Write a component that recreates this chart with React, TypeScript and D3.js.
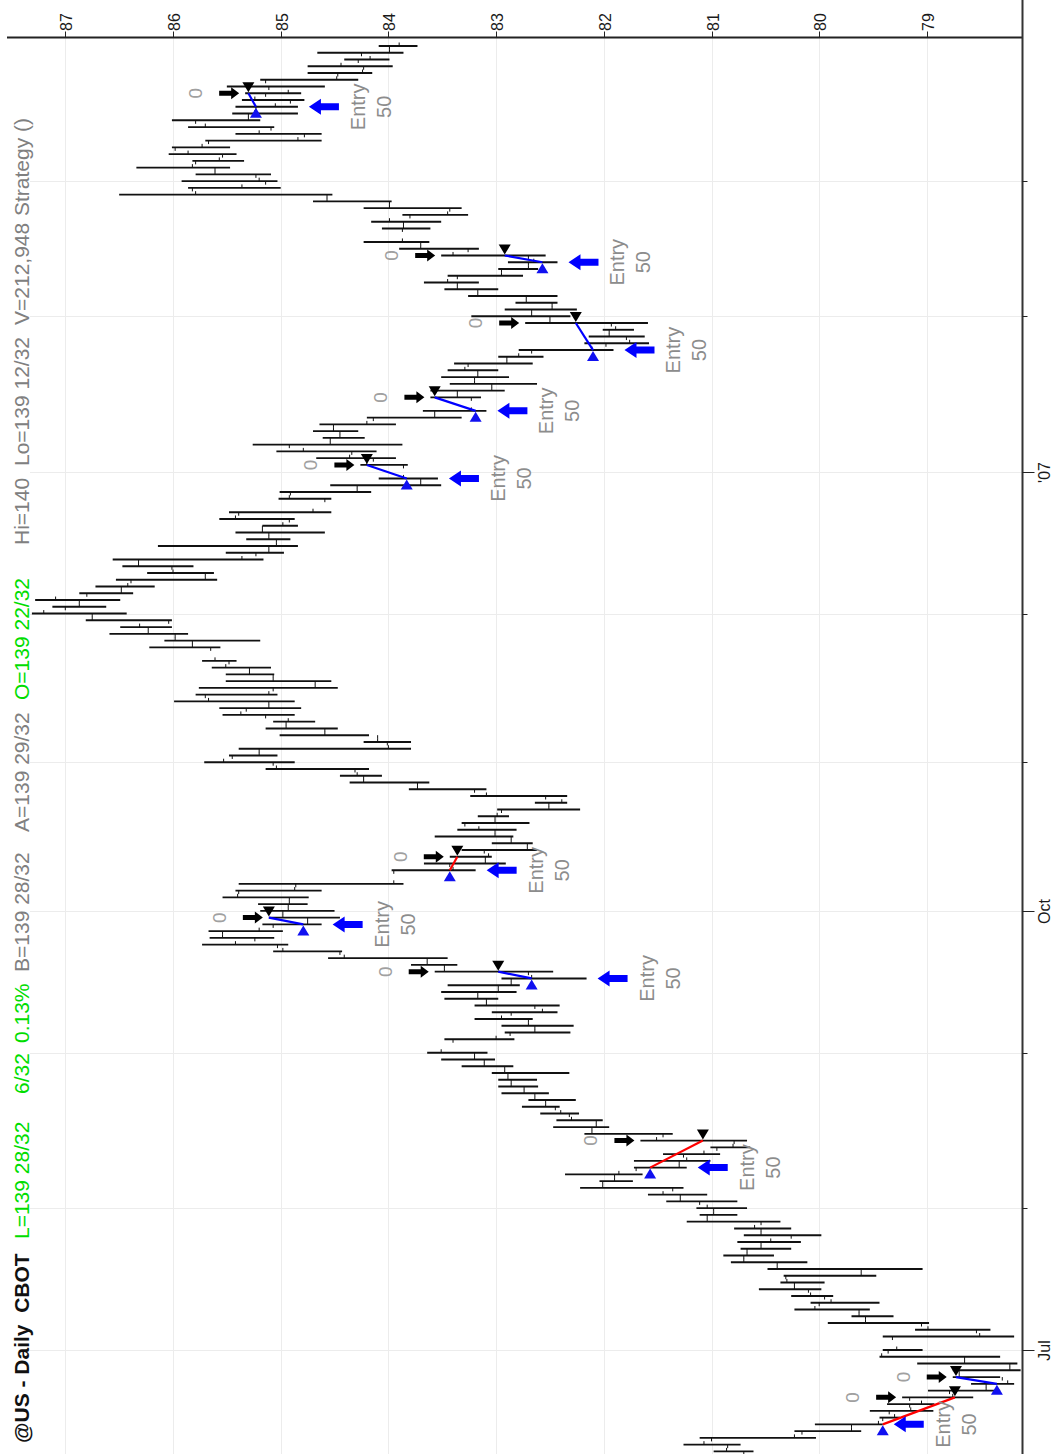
import React, { useRef, useEffect } from "react";
import * as d3 from "d3";

const W = 1056;
const H = 1454;

// trading calendar: weekdays from the first to the last bar, minus exchange holidays
const firstDay = "2006-06-12";
const lastDay = "2007-03-29";
const holidays = [
  "2006-07-04", "2006-09-04", "2006-10-09", "2006-11-23",
  "2006-12-25", "2007-01-01", "2007-01-15", "2007-02-19",
];

// daily OHLC, oldest first (one value per trading day)
const highs = [
  80.98, 81.26, 81.11, 80.23, 80.04, 79.44, 79.53, 79.37, 79.23, 78.99,
  78.59, 78.76, 78.76, 79.09, 79.44, 79.41, 79.41, 79.11, 79.92, 79.7,
  80.23, 80.08, 80.26, 80.56, 80.36, 80.33, 80.48, 80.82, 80.89, 80.73,
  80.76, 80.7, 80.79, 81.23, 81.11, 81.14, 81.42, 81.59, 82.22, 82.04,
  82.36, 81.72, 81.72, 81.45, 81.01, 81.66, 82.18, 82.47, 82.44, 82.59,
  82.76, 82.7, 82.95, 82.98, 82.98, 83.04, 83.32, 83.51, 83.64, 83.48,
  82.92, 82.95, 83.2, 83.04, 83.2, 83.48, 83.51, 83.45, 82.95, 83.57,
  83.79, 84.56, 85.07, 85.73, 85.66, 85.67, 85.17, 85.11, 85.19, 85.21,
  85.54, 85.42, 85.39, 83.97, 83.67, 83.43, 83.32, 83.04, 83.57, 83.36,
  83.32, 83.17, 82.99, 82.64, 83.24, 83.81, 84.36, 84.45, 85.14, 85.71,
  85.48, 85.39, 84.23, 85.01, 85.14, 85.07, 85.54, 85.57, 85.99, 85.79,
  85.76, 85.51, 85.51, 85.64, 85.73, 86.22, 86.08, 86.59, 86.49, 86.81,
  87.31, 87.12, 87.28, 86.87, 86.72, 86.53, 86.24, 86.47, 86.56, 85.51,
  86.14, 85.32, 85.42, 85.17, 85.57, 85.48, 85.02, 85.01, 84.54, 84.09,
  84.26, 84.67, 85.04, 85.26, 84.61, 84.7, 84.64, 84.2, 83.68, 83.61,
  83.61, 83.43, 83.51, 83.45, 83.39, 82.98, 82.79, 82.18, 82.14, 82.01,
  82.73, 83.23, 82.92, 82.82, 83.26, 83.48, 83.67, 83.45, 82.98, 82.89,
  83.51, 83.9, 84.23, 84.06, 84.16, 83.87, 84.23, 84.7, 86.5, 85.86,
  85.92, 85.79, 86.34, 85.82, 86.04, 86.01, 85.7, 85.42, 85.86, 86.01,
  85.45, 85.42, 85.36, 85.33, 85.5, 85.19, 84.75, 84.75, 84.41, 84.66,
  84.09,
];
const lows = [
  80.61, 80.73, 80.03, 79.61, 79.41, 79.25, 78.94, 78.93, 78.57, 78.32,
  78.19, 78.32, 78.13, 78.16, 78.32, 79.04, 78.19, 78.41, 78.98, 79.31,
  79.53, 79.44, 79.87, 79.98, 79.95, 79.47, 79.04, 80.11, 80.42, 80.26,
  80.17, 79.98, 80.26, 80.36, 80.76, 80.67, 80.76, 81.04, 81.26, 81.73,
  81.64, 81.23, 81.01, 80.92, 80.64, 80.67, 81.36, 81.95, 82.01, 82.23,
  82.41, 82.26, 82.51, 82.61, 82.62, 82.32, 82.84, 83.01, 83.08, 82.83,
  82.31, 82.28, 82.66, 82.43, 82.41, 82.98, 82.81, 82.78, 82.16, 82.47,
  83.36, 83.45, 84.43, 84.93, 85.06, 84.98, 84.62, 84.45, 84.5, 84.75,
  84.74, 84.62, 83.86, 83.19, 82.91, 83.04, 82.62, 82.66, 82.84, 82.81,
  82.69, 82.88, 82.22, 82.34, 82.34, 83.09, 83.62, 84.06, 84.18, 84.87,
  85.03, 83.79, 83.79, 84.18, 84.47, 84.68, 84.87, 84.81, 84.87, 85.03,
  84.47, 84.53, 85.06, 85.09, 85.41, 85.56, 85.19, 85.86, 86.01, 86.01,
  86.43, 86.62, 86.49, 86.37, 86.17, 85.59, 85.62, 85.81, 85.16, 84.97,
  84.84, 84.91, 84.59, 84.84, 84.87, 84.53, 84.53, 84.16, 83.51, 83.54,
  83.82, 83.93, 84.11, 83.87, 84.22, 84.28, 83.93, 83.32, 83.09, 83.14,
  82.92, 82.62, 82.88, 82.98, 82.66, 82.56, 81.91, 81.58, 81.62, 81.72,
  81.59, 82.31, 82.25, 82.43, 82.43, 82.98, 83.16, 82.75, 82.61, 82.43,
  82.54, 83.16, 83.62, 83.61, 83.51, 83.26, 83.32, 83.97, 84.52, 85.0,
  85.03, 85.09, 85.47, 85.34, 85.41, 85.47, 84.62, 84.62, 85.06, 85.19,
  84.84, 84.84, 84.78, 84.81, 84.59, 84.28, 84.15, 83.96, 83.99, 83.86,
  83.73,
];
const opens = [
  80.7, 80.85, 81.0, 80.16, 79.7, 79.41, 79.35, 79.16, 79.16, 78.79,
  78.45, 78.3, 78.7, 78.23, 78.65, 79.36, 79.32, 78.54, 79.05, 79.57,
  79.63, 80.0, 79.95, 80.1, 80.23, 80.31, 79.61, 80.39, 80.7, 80.67,
  80.54, 80.26, 80.54, 80.54, 81.04, 80.98, 81.11, 81.29, 81.36, 82.01,
  81.9, 81.7, 81.3, 81.26, 80.95, 80.79, 81.45, 82.11, 82.07, 82.32,
  82.45, 82.54, 82.64, 82.74, 82.86, 82.89, 82.92, 83.11, 83.2, 83.4,
  82.87, 82.64, 82.7, 82.86, 82.64, 83.09, 83.17, 82.98, 82.86, 82.7,
  83.48, 83.64, 84.45, 85.03, 85.24, 85.54, 85.07, 84.75, 84.98, 84.93,
  84.92, 85.39, 84.86, 83.95, 83.43, 83.1, 83.11, 82.71, 82.86, 83.01,
  83.29, 83.01, 82.95, 82.51, 82.54, 83.2, 83.73, 84.23, 84.31, 85.07,
  85.45, 85.2, 84.01, 84.1, 84.59, 84.95, 85.14, 85.32, 85.11, 85.7,
  85.07, 84.68, 85.07, 85.29, 85.48, 85.65, 85.82, 85.98, 86.23, 86.04,
  86.75, 87.0, 86.87, 86.8, 86.48, 86.39, 85.7, 86.01, 86.32, 85.23,
  85.11, 85.04, 85.11, 85.17, 84.92, 85.39, 84.59, 84.91, 84.29, 83.7,
  83.86, 84.14, 84.34, 84.92, 84.54, 84.45, 84.51, 84.14, 83.57, 83.23,
  83.36, 83.04, 83.2, 83.17, 83.26, 82.9, 82.67, 81.98, 81.79, 81.95,
  81.93, 82.5, 82.67, 82.48, 82.72, 83.17, 83.36, 83.36, 82.95, 82.7,
  82.7, 83.26, 83.7, 83.87, 83.86, 83.8, 83.43, 83.99, 84.57, 85.82,
  85.14, 85.23, 85.61, 85.79, 85.54, 85.98, 85.67, 84.78, 85.09, 85.79,
  85.3, 85.23, 84.91, 85.14, 85.11, 85.14, 84.47, 84.23, 84.28, 84.25,
  83.99,
];
const closes = [
  80.86, 81.07, 80.23, 79.7, 79.45, 79.3, 79.15, 79.05, 78.76, 78.45,
  78.25, 78.7, 78.23, 78.65, 79.42, 79.28, 78.51, 78.99, 79.57, 79.63,
  80.04, 79.89, 80.08, 80.23, 80.3, 79.61, 80.39, 80.7, 80.67, 80.54,
  80.45, 80.54, 80.6, 81.04, 80.98, 81.04, 81.29, 81.45, 82.01, 81.9,
  81.86, 81.3, 81.23, 81.07, 80.8, 81.51, 82.11, 82.07, 82.3, 82.4,
  82.54, 82.64, 82.74, 82.86, 82.89, 82.92, 83.11, 83.2, 83.51, 83.0,
  82.64, 82.7, 82.95, 82.57, 83.09, 83.17, 82.98, 82.86, 82.67, 83.48,
  83.64, 84.41, 84.98, 85.42, 85.54, 85.2, 84.75, 84.98, 84.93, 84.92,
  85.4, 84.87, 83.95, 83.4, 83.1, 83.07, 82.71, 82.86, 83.01, 83.16,
  83.01, 82.99, 82.51, 82.39, 83.09, 83.73, 84.23, 84.29, 85.04, 85.53,
  85.2, 84.0, 84.1, 84.59, 84.95, 84.93, 85.37, 85.11, 85.67, 85.11,
  84.68, 85.07, 85.29, 85.51, 85.61, 85.82, 85.98, 86.23, 86.31, 86.75,
  87.2, 86.87, 87.09, 86.48, 86.42, 85.7, 86.0, 86.32, 85.36, 85.11,
  85.04, 85.11, 85.17, 84.98, 85.42, 84.7, 84.92, 84.29, 83.7, 83.86,
  84.2, 84.36, 84.79, 84.54, 84.45, 84.51, 84.2, 83.57, 83.23, 83.36,
  83.04, 83.2, 83.17, 83.29, 82.9, 82.79, 82.11, 81.76, 81.95, 81.89,
  82.5, 82.67, 82.48, 82.72, 83.17, 83.36, 83.45, 82.95, 82.7, 82.65,
  83.4, 83.7, 83.87, 83.86, 83.99, 83.45, 83.99, 84.57, 85.79, 85.36,
  85.2, 85.61, 85.82, 85.57, 85.86, 85.73, 84.84, 85.2, 85.7, 85.3,
  85.24, 85.05, 85.24, 84.93, 85.28, 84.48, 84.24, 84.44, 84.17, 83.99,
  83.9,
];

// strategy trades: long entry (50) and exit (0)
const trades = [
  { entry: "2006-06-16", entryPrice: 79.41, exit: "2006-06-22", exitPrice: 78.74 },
  { entry: "2006-06-26", entryPrice: 78.35, exit: "2006-06-27", exitPrice: 78.73 },
  { entry: "2006-08-09", entryPrice: 81.57, exit: "2006-08-15", exitPrice: 81.08 },
  { entry: "2006-09-18", entryPrice: 82.67, exit: "2006-09-19", exitPrice: 82.98 },
  { entry: "2006-09-28", entryPrice: 84.79, exit: "2006-09-29", exitPrice: 85.11 },
  { entry: "2006-10-10", entryPrice: 83.43, exit: "2006-10-12", exitPrice: 83.36 },
  { entry: "2006-12-29", entryPrice: 83.83, exit: "2007-01-02", exitPrice: 84.2 },
  { entry: "2007-01-12", entryPrice: 83.19, exit: "2007-01-16", exitPrice: 83.57 },
  { entry: "2007-01-25", entryPrice: 82.1, exit: "2007-01-31", exitPrice: 82.26 },
  { entry: "2007-02-13", entryPrice: 82.57, exit: "2007-02-14", exitPrice: 82.92 },
  { entry: "2007-03-16", entryPrice: 85.23, exit: "2007-03-20", exitPrice: 85.3 },
];

const priceTicks = [87, 86, 85, 84, 83, 82, 81, 80, 79];
const monthLabels = { "2006-07": "Jul", "2006-10": "Oct", "2007-01": "'07" };

// header line, pieces and colours
const header = [
  { text: "@US - Daily  CBOT", color: "#111", start: 1443, bold: true },
  { text: "L=139 28/32", color: "#00dd00", start: 1239 },
  { text: "6/32", color: "#00dd00", start: 1094 },
  { text: "0.13%", color: "#00dd00", start: 1043 },
  { text: "B=139 28/32", color: "#808080", start: 972 },
  { text: "A=139 29/32", color: "#808080", start: 832 },
  { text: "O=139 22/32", color: "#00dd00", start: 700 },
  { text: "Hi=140", color: "#808080", start: 545 },
  { text: "Lo=139 12/32", color: "#808080", start: 466 },
  { text: "V=212,948", color: "#808080", start: 325 },
  { text: "Strategy ()", color: "#808080", start: 216 },
];

const FONT = "'Liberation Sans', Arial, sans-serif";

function App() {
  const svgRef = useRef(null);

  useEffect(() => {
    const svg = d3.select(svgRef.current);
    svg.selectAll("*").remove();

    const parse = d3.timeParse("%Y-%m-%d");
    const fmt = d3.timeFormat("%Y-%m-%d");
    const fmtMonth = d3.timeFormat("%Y-%m");
    const holidaySet = new Set(holidays);

    // walk the weekdays, every weekday takes a slot, holidays leave a gap
    const slotOf = {};
    const monthStarts = [];
    let slot = 0;
    let prevMonth = null;
    d3.timeDay
      .range(parse(firstDay), d3.timeDay.offset(parse(lastDay), 1))
      .forEach((d) => {
        const wd = d.getDay();
        if (wd === 0 || wd === 6) return;
        const m = fmtMonth(d);
        if (prevMonth !== null && m !== prevMonth) {
          monthStarts.push({ slot, key: m });
        }
        prevMonth = m;
        if (!holidaySet.has(fmt(d))) slotOf[fmt(d)] = slot;
        slot++;
      });
    const days = Object.keys(slotOf);
    const bars = days.map((day, i) => ({
      day,
      slot: slotOf[day],
      h: highs[i],
      l: lows[i],
      o: opens[i],
      c: closes[i],
    }));
    const byDay = {};
    bars.forEach((b) => (byDay[b.day] = b));

    // chart is drawn turned: price runs left→right (high→low), time runs bottom→top
    const x = d3.scaleLinear().domain([87, 79]).range([65.3, 926.9]);
    const y = d3.scaleLinear().domain([0, slot - 1]).range([1451.4, 46]);

    const axisY = 37.5;
    const axisX = 1022.5;
    const plotLeft = 30;

    svg.append("rect").attr("width", W).attr("height", H).attr("fill", "#fff");

    svg
      .append("defs")
      .append("clipPath")
      .attr("id", "plot")
      .append("rect")
      .attr("x", 0)
      .attr("y", axisY)
      .attr("width", axisX)
      .attr("height", H - axisY);

    // grid
    const grid = svg.append("g").attr("stroke", "#ececec").attr("stroke-width", 1);
    priceTicks.forEach((p) => {
      grid
        .append("line")
        .attr("x1", Math.round(x(p)) + 0.5)
        .attr("x2", Math.round(x(p)) + 0.5)
        .attr("y1", axisY)
        .attr("y2", H);
    });
    monthStarts.forEach((m) => {
      grid
        .append("line")
        .attr("x1", plotLeft)
        .attr("x2", axisX)
        .attr("y1", Math.round(y(m.slot)) + 0.5)
        .attr("y2", Math.round(y(m.slot)) + 0.5);
    });

    // price axis along the top
    svg
      .append("line")
      .attr("x1", 7)
      .attr("x2", axisX)
      .attr("y1", axisY)
      .attr("y2", axisY)
      .attr("stroke", "#222")
      .attr("stroke-width", 2);
    priceTicks.forEach((p) => {
      const px = Math.round(x(p)) + 0.5;
      svg
        .append("line")
        .attr("x1", px)
        .attr("x2", px)
        .attr("y1", axisY - 6)
        .attr("y2", axisY)
        .attr("stroke", "#222");
      svg
        .append("text")
        .attr("transform", `translate(${px + 6},31) rotate(-90)`)
        .attr("font-family", FONT)
        .attr("font-size", 16)
        .attr("fill", "#1a1a1a")
        .text(p);
    });

    // time axis on the right
    svg
      .append("line")
      .attr("x1", axisX)
      .attr("x2", axisX)
      .attr("y1", 0)
      .attr("y2", H)
      .attr("stroke", "#333")
      .attr("stroke-width", 2);
    monthStarts.forEach((m) => {
      const my = Math.round(y(m.slot)) + 0.5;
      const label = monthLabels[m.key];
      svg
        .append("line")
        .attr("x1", axisX)
        .attr("x2", axisX + (label ? 12 : 5))
        .attr("y1", my)
        .attr("y2", my)
        .attr("stroke", "#222");
      if (label) {
        svg
          .append("text")
          .attr("transform", `translate(1050,${my}) rotate(-90)`)
          .attr("text-anchor", "middle")
          .attr("font-family", FONT)
          .attr("font-size", 16)
          .attr("fill", "#1a1a1a")
          .text(label);
      }
    });

    const plot = svg.append("g").attr("clip-path", "url(#plot)");

    // OHLC bars
    const barG = plot.append("g").attr("stroke", "#111");
    bars.forEach((b) => {
      const by = y(b.slot);
      barG
        .append("line")
        .attr("x1", x(b.h))
        .attr("x2", x(b.l))
        .attr("y1", by)
        .attr("y2", by)
        .attr("stroke-width", 1.9);
      barG
        .append("line")
        .attr("x1", x(b.o))
        .attr("x2", x(b.o))
        .attr("y1", by)
        .attr("y2", by + 3.5)
        .attr("stroke-width", 1);
      barG
        .append("line")
        .attr("x1", x(b.c))
        .attr("x2", x(b.c))
        .attr("y1", by - 3.5)
        .attr("y2", by)
        .attr("stroke-width", 1);
    });

    // trades
    const tradeG = plot.append("g");
    trades.forEach((t) => {
      const eb = byDay[t.entry];
      const xb = byDay[t.exit];
      const ey = y(eb.slot);
      const xy = y(xb.slot);
      const ex = x(t.entryPrice);
      const xx = x(t.exitPrice);

      tradeG
        .append("line")
        .attr("x1", ex)
        .attr("y1", ey)
        .attr("x2", xx)
        .attr("y2", xy)
        .attr("stroke", t.exitPrice > t.entryPrice ? "#0000ff" : "#ff0000")
        .attr("stroke-width", 2.2);

      // exit marker
      tradeG
        .append("path")
        .attr("d", `M${xx - 6},${xy - 11}L${xx + 6},${xy - 11}L${xx},${xy - 1}Z`)
        .attr("fill", "#000");
      // entry marker
      tradeG
        .append("path")
        .attr("d", `M${ex - 6},${ey + 11}L${ex + 6},${ey + 11}L${ex},${ey + 1}Z`)
        .attr("fill", "#1010f0");

      // exit arrow and "0"
      const tx = x(xb.h) - 6;
      tradeG
        .append("path")
        .attr(
          "d",
          `M${tx},${xy}L${tx - 8},${xy - 6}L${tx - 8},${xy - 2.5}L${tx - 20},${xy - 2.5}` +
            `L${tx - 20},${xy + 2.5}L${tx - 8},${xy + 2.5}L${tx - 8},${xy + 6}Z`
        )
        .attr("fill", "#000");
      tradeG
        .append("text")
        .attr("transform", `translate(${x(xb.h) - 43},${xy}) rotate(-90)`)
        .attr("text-anchor", "middle")
        .attr("font-family", FONT)
        .attr("font-size", 19)
        .attr("fill", "#a0a0a0")
        .text("0");

      // entry arrow and label, left out when they fall past the time axis
      const bx = x(eb.l) + 11;
      if (bx + 30 > axisX) return;
      tradeG
        .append("path")
        .attr(
          "d",
          `M${bx},${ey}L${bx + 12},${ey - 8}L${bx + 12},${ey - 3.5}L${bx + 30},${ey - 3.5}` +
            `L${bx + 30},${ey + 3.5}L${bx + 12},${ey + 3.5}L${bx + 12},${ey + 8}Z`
        )
        .attr("fill", "#0000ff");
      const lx = x(eb.l) + 60;
      tradeG
        .append("text")
        .attr("transform", `translate(${lx + 7},${ey}) rotate(-90)`)
        .attr("text-anchor", "middle")
        .attr("font-family", FONT)
        .attr("font-size", 20)
        .attr("fill", "#8c8c8c")
        .text("Entry");
      tradeG
        .append("text")
        .attr("transform", `translate(${lx + 33},${ey}) rotate(-90)`)
        .attr("text-anchor", "middle")
        .attr("font-family", FONT)
        .attr("font-size", 20)
        .attr("fill", "#8c8c8c")
        .text("50");
    });

    // header along the left edge
    header.forEach((h) => {
      svg
        .append("text")
        .attr("transform", `translate(29,${h.start}) rotate(-90)`)
        .attr("font-family", FONT)
        .attr("font-size", 21)
        .attr("font-weight", h.bold ? "bold" : "normal")
        .style("white-space", "pre")
        .attr("fill", h.color)
        .text(h.text);
    });
  }, []);

  return (
    <svg
      ref={svgRef}
      width={W}
      height={H}
      style={{ position: "absolute", left: 0, top: 0, display: "block" }}
    ></svg>
  );
}

export default App;
